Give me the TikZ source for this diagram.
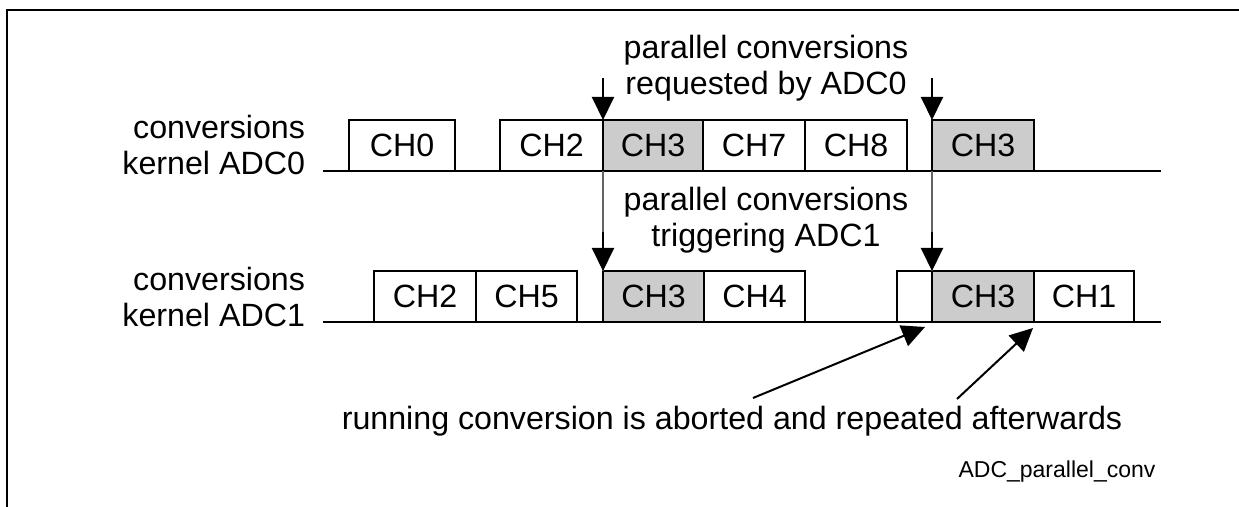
\documentclass[tikz,border=0pt]{standalone}
\usepackage{fontspec}
\setmainfont{Liberation Sans}
\usetikzlibrary{arrows.meta, positioning}
\definecolor{chgray}{RGB}{204,204,204}
\definecolor{linkgray}{RGB}{100,100,100}
\begin{document}
\begin{tikzpicture}[
    x=0.5pt, y=-0.5pt,
    every node/.style={font=\fontsize{16.1}{18.3}\selectfont, inner sep=0pt, outer sep=0pt},
    chbox/.style={rectangle, draw, line width=1pt, minimum width=51pt, minimum height=25.5pt, fill=#1},
    chbox/.default=white,
    rowlabel/.style={align=right, anchor=east},
    note/.style={align=center},
    arrow/.style={-{Triangle[length=11.5pt, width=11pt]}, line width=1pt},
    timeline/.style={line width=1pt}
]
\useasboundingbox (0,0) rectangle (1239,507);

% frame
\draw[line width=1.2pt] (7,507) -- (7,10) -- (1239,10);

% ADC0 kernel
\node[rowlabel] (lbl0) at (305,145) {conversions\\kernel ADC0};
\coordinate (base0 start) at (323,171);
\coordinate (base0 end) at (1161,171);
\draw[timeline] (base0 start) -- (base0 end);
\node[chbox, minimum width=53pt, anchor=south west] (a0ch0) at (349,171) {CH0};
\node[chbox, minimum width=51.5pt, anchor=south west] (a0ch2) at (500,171) {CH2};
\node[chbox=chgray, minimum width=50pt, right=0pt of a0ch2] (a0ch3) {CH3};
\node[chbox, right=0pt of a0ch3] (a0ch7) {CH7};
\node[chbox, right=0pt of a0ch7] (a0ch8) {CH8};
\node[chbox=chgray, anchor=south west] (a0ch3b) at (932,171) {CH3};

% ADC1 kernel
\node[rowlabel] (lbl1) at (305,297) {conversions\\kernel ADC1};
\coordinate (base1 start) at (323,322);
\coordinate (base1 end) at (1161,322);
\draw[timeline] (base1 start) -- (base1 end);
\node[chbox, anchor=south west] (a1ch2) at (374,322) {CH2};
\node[chbox, minimum width=50.5pt, right=0pt of a1ch2] (a1ch5) {CH5};
\node[chbox=chgray, minimum width=50.5pt, anchor=south west] (a1ch3) at (603,322) {CH3};
\node[chbox, minimum width=50.5pt, right=0pt of a1ch3] (a1ch4) {CH4};
\node[chbox, minimum width=17.5pt, anchor=south west] (a1gap) at (897,322) {};
\node[chbox=chgray, right=0pt of a1gap] (a1ch3b) {CH3};
\node[chbox, minimum width=50pt, right=0pt of a1ch3b] (a1ch1) {CH1};

% notes
\node[note] (req) at (766,68) {parallel conversions\\requested by ADC0};
\node[note] (trig) at (766,220) {parallel conversions\\triggering ADC1};
\node (abort) at (732,421) {running conversion is aborted and repeated afterwards};
\node[font=\fontsize{11.5}{13}\selectfont] (figid) at (1057,472) {ADC\_parallel\_conv};

% requests from ADC0
\coordinate (req top a) at (603,78);
\coordinate (req top b) at (932,78);
\draw[arrow] (req top a) -- (a0ch3.north west);
\draw[arrow] (req top b) -- (a0ch3b.north west);

% triggers to ADC1
\draw[linkgray, line width=0.6pt] (a0ch3.south west) -- (a1ch3.north west);
\draw[linkgray, line width=0.6pt] (a0ch3b.south west) -- (a1ch3b.north west);
\coordinate (trig top a) at (603,232);
\coordinate (trig top b) at (932,232);
\draw[arrow] (trig top a) -- (a1ch3.north west);
\draw[arrow] (trig top b) -- (a1ch3b.north west);

% aborted conversion
\coordinate (abort tail a) at (753,398);
\coordinate (abort tail b) at (957,399);
\draw[arrow] (abort tail a) -- ([xshift=-3.5pt, yshift=-2.5pt]a1gap.south east);
\draw[arrow] (abort tail b) -- ([xshift=-0.5pt, yshift=-3pt]a1ch3b.south east);
\end{tikzpicture}
\end{document}
